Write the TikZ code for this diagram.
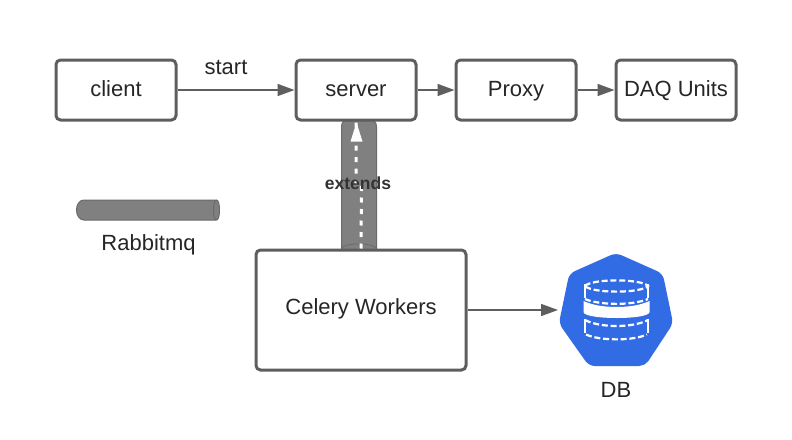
\documentclass[tikz,border=0pt]{standalone}
\usepackage{fontspec}
\setmainfont{Liberation Sans}
\usetikzlibrary{arrows.meta,calc}
\definecolor{edge}{HTML}{5E5E5E}
\definecolor{tube}{HTML}{808080}
\definecolor{tubeline}{HTML}{6A6A6A}
\definecolor{dbblue}{HTML}{326CE5}
\tikzset{
  x=1pt,y=-1pt,
  box/.style={draw=edge,line width=3pt,rounded corners=4.5pt,fill=white,minimum height=60pt,text=black!85,font=\fontsize{22}{24}\selectfont,inner sep=0pt,text height=16pt,text depth=4pt},
  link/.style={draw=edge,line width=1.5pt,-{Triangle[length=17pt,width=12pt]}},
  label/.style={text=black!85,font=\fontsize{22}{24}\selectfont,inner sep=0pt},
  pipe/.style={fill=tube,draw=tubeline,line width=1pt},
  dbline/.style={draw=white,line width=2.2pt,dash pattern=on 6pt off 2.8pt},
  dbside/.style={draw=white,line width=2.2pt}
}
\begin{document}
\begin{tikzpicture}
\useasboundingbox (0,0) rectangle (792,439);
\fill[white] (0,0) rectangle (792,439);
% rabbitmq tube
\draw[pipe] (216,200) -- (84,200) .. controls (74,200) and (74,220) .. (84,220) -- (216,220);
\draw[pipe] (216.5,200) .. controls (212.5,200) and (212.5,220) .. (216.5,220) .. controls (220.5,220) and (220.5,200) .. (216.5,200) -- cycle;
\node[label] (rabbit) at (148.5,245) {Rabbitmq};
% extends tube
\draw[pipe] (341.5,250) -- (341.5,127) .. controls (341.5,122) and (344,120) .. (348,120) -- (370,120) .. controls (374,120) and (376.5,122) .. (376.5,127) -- (376.5,250);
\draw[tubeline,line width=.8pt] (341.5,248) .. controls (347,242.5) and (371,242.5) .. (376.5,248);
% boxes
\node[box,minimum width=120pt] (client) at (116,90) {client};
\node[box,minimum width=120pt] (server) at (356,90) {server};
\node[box,minimum width=120pt] (proxy) at (516,90) {Proxy};
\node[box,minimum width=120pt] (daq) at (676,90) {DAQ Units};
\node[box,minimum width=210pt,minimum height=120pt,text height=14pt,text depth=6pt] (celery) at (361,310) {Celery Workers};
% db icon
\fill[dbblue,draw=dbblue,line width=4pt,line join=round,rounded corners=5pt]
  (616,255) -- (661,275) -- (671,323) -- (644,364) -- (590,364) -- (561,323) -- (571,275) -- cycle;
\coordinate (dbw) at (558,310);
% db cylinders
\draw[dbline] (585,286) .. controls (592,278.5) and (641,278.5) .. (648,286) .. controls (641,293.5) and (592,293.5) .. (585,286);
\draw[dbside] (585,284) -- (585,298);
\draw[dbside] (648,284) -- (648,298);
\draw[dbline] (585,299) .. controls (600,305.5) and (633,305.5) .. (648,299);
\fill[white] (583.5,301) .. controls (600,309) and (633,309) .. (649.5,301) -- (649.5,312) .. controls (649.5,320) and (584,320) .. (583.5,312) -- cycle;
\draw[dbline] (585,320) .. controls (600,328) and (633,328) .. (648,320);
\draw[dbside] (585,319) -- (585,333);
\draw[dbside] (648,319) -- (648,333);
\draw[dbline] (586,334.5) .. controls (600,341) and (633,341) .. (647,334.5);
\node[label] (db) at (616,390) {DB};
% connectors
\draw[link] (client.east) -- (server.west);
\node[label] (start) at (226,67) {start};
\draw[link] (server.east) -- (proxy.west);
\draw[link] (proxy.east) -- (daq.west);
\draw[link] (celery.east) -- (dbw);
% extends arrow
\coordinate (kink) at (361.5,183);
\draw[draw=white,line width=3pt,dash pattern=on 5pt off 6.5pt] (celery.north) -- (kink) -| (server.south);
\fill[white] ($(server.south)+(0.5,1)$) -- ($(server.south)+(6.5,20)$) -- ($(server.south)+(-5.5,20)$) -- cycle;
\node[text=black!80,inner sep=0pt,font=\bfseries\fontsize{17.5}{20}\selectfont] (ext) at (358,183) {extends};
\end{tikzpicture}
\end{document}
